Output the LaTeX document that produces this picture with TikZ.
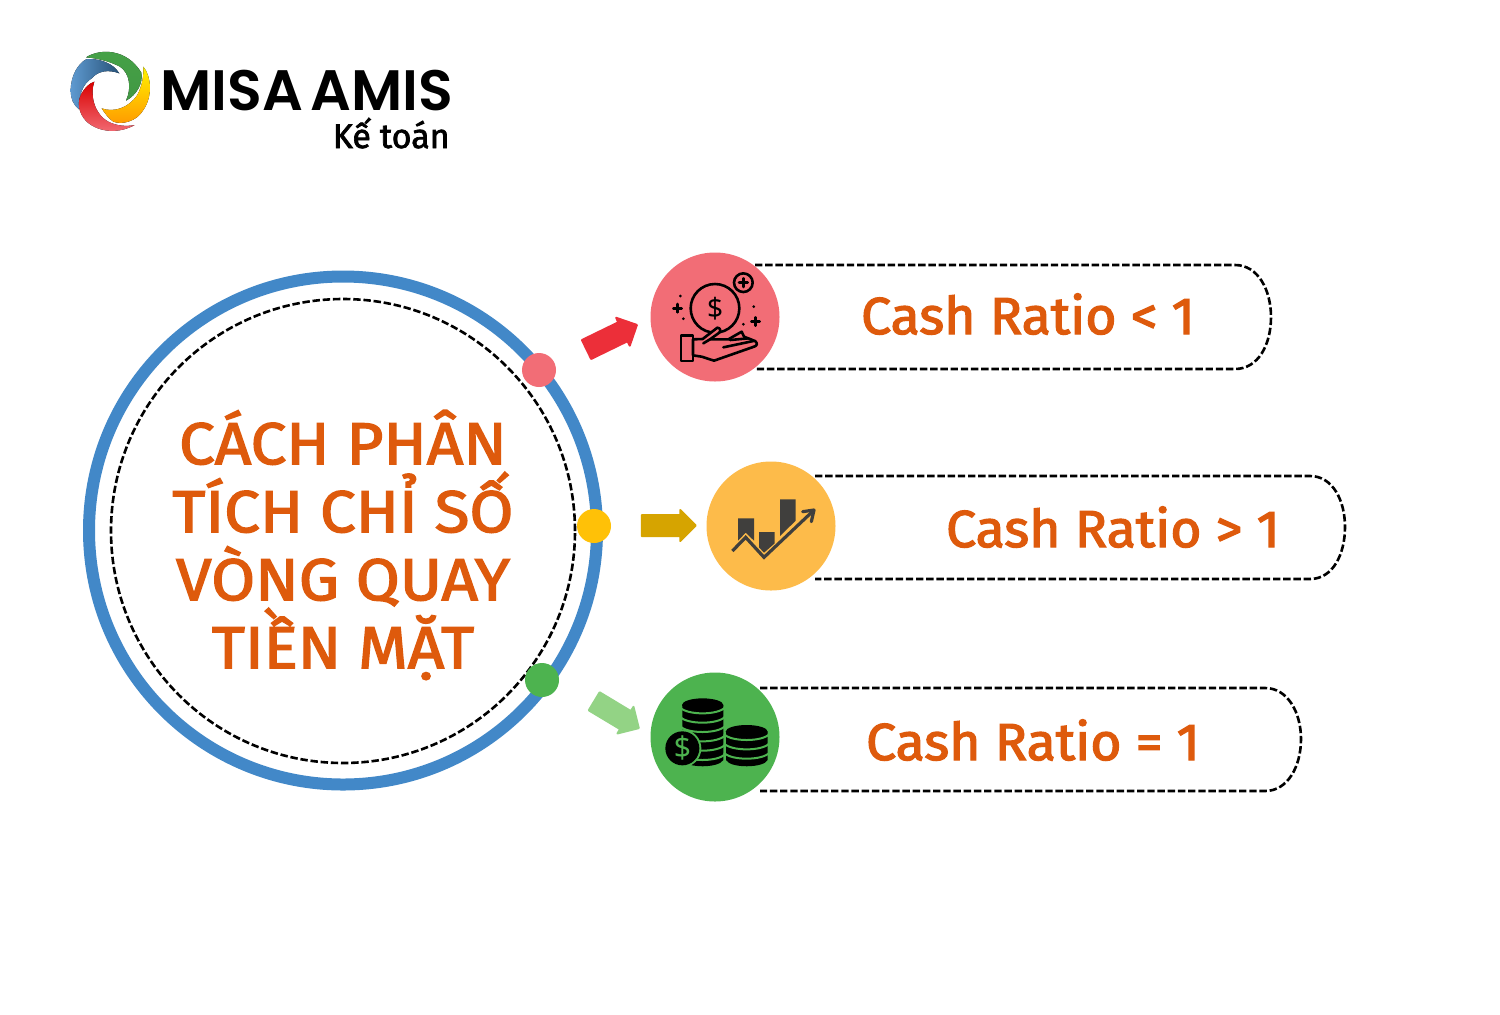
\documentclass[tikz,border=0pt]{standalone}
\usepackage{fontspec}
\usetikzlibrary{shapes.arrows}
\newfontfamily\tf[FakeBold=2.4,FakeStretch=1.08]{Fira Sans}
\newfontfamily\rf[FakeBold=2.4,FakeStretch=1.03]{Fira Sans}
\newfontfamily\lf[BoldFont=Poppins SemiBold]{Poppins}
\newfontfamily\kf[FakeBold=2]{Fira Sans}
\newfontfamily\df{Noto Sans}
\definecolor{txt}{HTML}{DE5A0C}
\definecolor{ringb}{HTML}{4288C8}
\definecolor{cpink}{HTML}{F26D76}
\definecolor{cyel}{HTML}{FFC107}
\definecolor{corg}{HTML}{FDBB4A}
\definecolor{cgrn}{HTML}{4DB34F}
\definecolor{dkbar}{HTML}{403F3D}
\definecolor{ared}{HTML}{EC2F39}
\definecolor{agold}{HTML}{D6A400}
\definecolor{algrn}{HTML}{93D385}
\tikzset{
 dashln/.style={draw=black,line width=1.3pt,dash pattern=on 3.7pt off 1.4pt},
 dot/.style={circle,inner sep=0pt,minimum size=17pt},
 badge/.style={circle,inner sep=0pt,minimum size=64.5pt},
 blockarrow/.style={single arrow,inner sep=0pt,text height=9.5pt,text depth=0pt,text width=0pt,single arrow head extend=2.5pt,minimum width=14.5pt,line width=1pt,line join=round,draw},
 ratio/.style={font=\rf\fontsize{26}{30}\selectfont,text=txt,inner sep=0pt,anchor=base},
 icon/.style={line width=1.3pt,draw=black,line join=round,line cap=round},
}
\begin{document}
\begin{tikzpicture}[x=0.5pt,y=-0.5pt]
\useasboundingbox[fill=white] (0,0) rectangle (1500,1014);
% logo
\begin{scope}[shift={(50,30)},x=0.16667pt,y=-0.16667pt]
 \fill[left color=ringb!85!white,right color=ringb!60!black] (62,183) .. controls (62,135) and (85,100) .. (110,87) .. controls (150,85) and (190,100) .. (208,130) .. controls (175,118) and (145,122) .. (125,145) .. controls (100,160) and (85,195) .. (87,238) .. controls (70,225) and (62,205) .. (62,183) -- cycle;
 \fill[top color=cgrn!90!black,bottom color=cgrn!85!black] (108,82) .. controls (150,55) and (230,55) .. (274,128) .. controls (280,160) and (260,195) .. (228,212) .. controls (245,175) and (240,130) .. (210,110) .. controls (175,92) and (140,85) .. (108,82) -- cycle;
 \fill[top color=yellow!90!orange,bottom color=orange!80!yellow] (280,110) .. controls (305,140) and (308,200) .. (280,240) .. controls (260,275) and (215,285) .. (190,275) .. controls (175,265) and (165,250) .. (155,235) .. controls (190,248) and (235,235) .. (262,195) .. controls (276,170) and (282,135) .. (280,110) -- cycle;
 \fill[top color=red!85!black,bottom color=cpink] (133,155) .. controls (120,190) and (130,250) .. (175,275) .. controls (200,288) and (230,290) .. (254,285) .. controls (210,310) and (150,310) .. (110,275) .. controls (85,250) and (80,215) .. (95,190) .. controls (105,172) and (118,160) .. (133,155) -- cycle;
\end{scope}
\node[font=\lf\bfseries\fontsize{28.5}{32}\selectfont,inner sep=0pt,anchor=base] (brand) at (307,110) {MISA\hspace{-3pt} AMIS};
\node[font=\kf\fontsize{17}{20}\selectfont,inner sep=0pt,anchor=base east] (sub) at (450,148) {Kế toán};
% central circle
\node[circle,draw=ringb,line width=6pt,minimum size=254pt,inner sep=0pt] (ring) at (343,530.5) {};
\node[circle,dashln,minimum size=232pt,inner sep=0pt] (dash) at (343,531) {};
\node[font=\tf\fontsize{29.5}{34}\selectfont,text=txt,align=center,inner sep=0pt] (title) at (343,545) {CÁCH PHÂN\\TÍCH CHỈ SỐ\\VÒNG QUAY\\TIỀN MẶT};
\node[dot,fill=cpink] (d1) at (539,370) {};
\node[dot,fill=cyel] (d2) at (594,526) {};
\node[dot,fill=cgrn] (d3) at (542,680) {};
% capsules
\path[dashln] (755,265) -- (1235,265) .. controls (1258,265) and (1271,290) .. (1271,317) .. controls (1271,345) and (1258,369) .. (1235,369) -- (755,369);
\path[dashln] (815,476) -- (1310,476) .. controls (1333,476) and (1345,501) .. (1345,527) .. controls (1345,554) and (1333,579) .. (1310,579) -- (815,579);
\path[dashln] (760,688) -- (1265,688) .. controls (1288,688) and (1301,713) .. (1301,739) .. controls (1301,766) and (1288,791) .. (1265,791) -- (760,791);
\node[badge,fill=cpink] (b1) at (715,317) {};
\node[badge,fill=corg] (b2) at (771,526) {};
\node[badge,fill=cgrn] (b3) at (715,737) {};
\node[ratio] (r1) at (1028,334) {Cash Ratio < 1};
\node[ratio] (r2) at (1113,547) {Cash Ratio > 1};
\node[ratio] (r3) at (1033,760) {Cash Ratio = 1};
% block arrows
\node[blockarrow,fill=ared,draw=ared,minimum height=28pt,rotate=26] (a1) at (607,339.5) {};
\node[blockarrow,fill=agold,draw=agold,minimum height=27pt] (a2) at (663.5,525.5) {};
\node[blockarrow,fill=algrn,draw=algrn,minimum height=26pt,rotate=-31] (a3) at (612,712) {};
% hand icon
\begin{scope}[shift={(510,240)},x=0.16667pt,y=-0.16667pt]
 \draw[icon] (615,205) circle (73);
 \draw[icon] (700,128) circle (28);
 \draw[icon] (700,115) -- (700,141) (687,128) -- (713,128);
 \draw[icon] (502,192) -- (502,217) (490,205) -- (515,205);
 \draw[icon] (736,232) -- (736,257) (724,245) -- (749,245);
 \fill (511,168) circle (4.5) (520,236) circle (4.5) (731,200) circle (4.5) (700,253) circle (4.5);
 \node[font=\df\fontsize{14}{16}\selectfont,inner sep=0pt] (dollar1) at (615,207) {\$};
 \draw[icon,fill=cpink] (513,287) rectangle (549,363);
 \draw[icon,fill=cpink] (549,298) -- (578,297) -- (622,263) .. controls (632,263) and (634,275) .. (625,280) -- (600,298) -- (655,298) -- (695,275) -- (702,290) -- (735,303) .. controls (745,310) and (740,318) .. (732,320) -- (612,362) -- (575,350) -- (549,346) -- cycle;
 \draw[icon] (600,298) -- (580,310) (640,322) -- (730,303) (660,300) -- (715,295);
\end{scope}
% chart icon
\begin{scope}[shift={(570,450)},x=0.16667pt,y=-0.16667pt]
 \fill[dkbar] (504,205) -- (552,205) -- (552,272) -- (527,248) -- (504,272) -- cycle;
 \fill[dkbar] (567,246) -- (614,246) -- (614,280) -- (582,308) -- (567,292) -- cycle;
 \fill[dkbar] (630,148) -- (677,148) -- (677,212) -- (630,258) -- cycle;
 \draw[draw=dkbar,line width=1.6pt,line join=miter] (487,303) -- (527,262) -- (582,322) -- (728,184);
 \draw[draw=dkbar,line width=1.6pt,line cap=round,line join=round] (698,185) -- (732,180) -- (724,215);
\end{scope}
% coin icon
\begin{scope}[shift={(510,660)},x=0.16667pt,y=-0.16667pt]
 \fill (517,135) -- (517,300) .. controls (530,325) and (625,325) .. (640,300) -- (640,135) -- cycle;
 \fill (578,135) ellipse (62 and 20);
 \fill (648,215) -- (648,300) .. controls (660,325) and (760,325) .. (773,300) -- (773,215) -- cycle;
 \fill (710,215) ellipse (63 and 20);
 \foreach \yy in {142,170,198,226,254,282}{
  \draw[cgrn,line width=1pt] (510,\yy) .. controls (530,\yy+24) and (625,\yy+24) .. (645,\yy);
 }
 \foreach \yy in {222,250,278}{
  \draw[cgrn,line width=1pt] (642,\yy) .. controls (662,\yy+24) and (758,\yy+24) .. (778,\yy);
 }
 \fill[cgrn] (517,265) circle (57);
 \fill (517,265) circle (51);
 \node[font=\df\fontsize{15}{18}\selectfont,text=cgrn,inner sep=0pt] (dollar3) at (517,265) {\$};
\end{scope}
\end{tikzpicture}
\end{document}
